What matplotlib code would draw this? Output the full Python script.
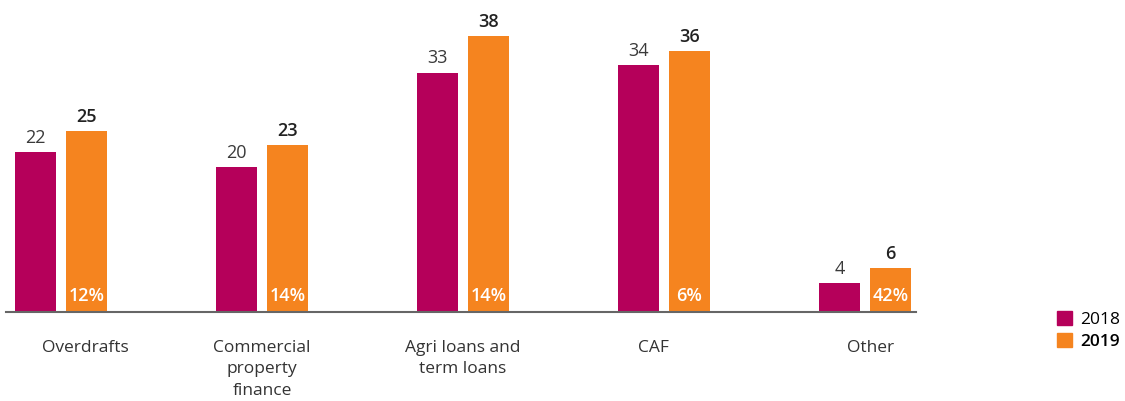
import matplotlib
matplotlib.use("Agg")
import matplotlib.pyplot as plt
import numpy as np
from matplotlib.patches import Patch

plt.rcParams['font.family'] = ['Open Sans', 'DejaVu Sans']

categories = ["Overdrafts", "Commercial\nproperty\nfinance", "Agri loans and\nterm loans", "CAF", "Other"]
v2018 = [22, 20, 33, 34, 4]
v2019 = [25, 23, 38, 36, 6]
growth = ["12%", "14%", "14%", "6%", "42%"]

c2018 = "#b5005a"
c2019 = "#f5841f"

fig = plt.figure(figsize=(11.25, 4.01), dpi=100)
ax = fig.add_axes([6 / 1125, 89 / 401, 910 / 1125, 312 / 401])

x = np.arange(len(categories))
w = 0.204
off = 0.127
ax.bar(x - off, v2018, w, color=c2018)
ax.bar(x + off, v2019, w, color=c2019)

for i in range(len(categories)):
    ax.text(x[i] - off, v2018[i] + 0.7, str(v2018[i]), ha="center", va="bottom",
            fontsize=13, color="#3a3a3a")
    ax.text(x[i] + off, v2019[i] + 0.7, str(v2019[i]), ha="center", va="bottom",
            fontsize=13, color="#222222", fontweight="semibold")
    ax.text(x[i] + off, 0.9, growth[i], ha="center", va="bottom",
            fontsize=13, color="white", fontweight="semibold")

ax.set_xlim(-0.274, 4.254)
ax.set_ylim(0, 43.0)
for s in ["top", "right", "left"]:
    ax.spines[s].set_visible(False)
ax.spines["bottom"].set_color("#666666")
ax.spines["bottom"].set_linewidth(1.5)
ax.set_yticks([])
ax.set_xticks(x + [0.12, 0, 0, -0.05, 0.03])
ax.set_xticklabels(categories, fontsize=12.5, color="#333333", linespacing=1.45, va="top")
ax.tick_params(axis="x", length=0, pad=20)

handles = [Patch(color=c2018), Patch(color=c2019)]
leg = fig.legend(handles, ["2018", "2019"], loc="upper left",
                 bbox_to_anchor=(1050 / 1125, 1 - 304 / 401), frameon=False,
                 fontsize=12.5, handlelength=0.85, handleheight=0.85, handletextpad=0.5,
                 labelspacing=0.3, borderaxespad=0)
leg.get_texts()[1].set_fontweight("semibold")

fig.savefig("out.png", dpi=100)
